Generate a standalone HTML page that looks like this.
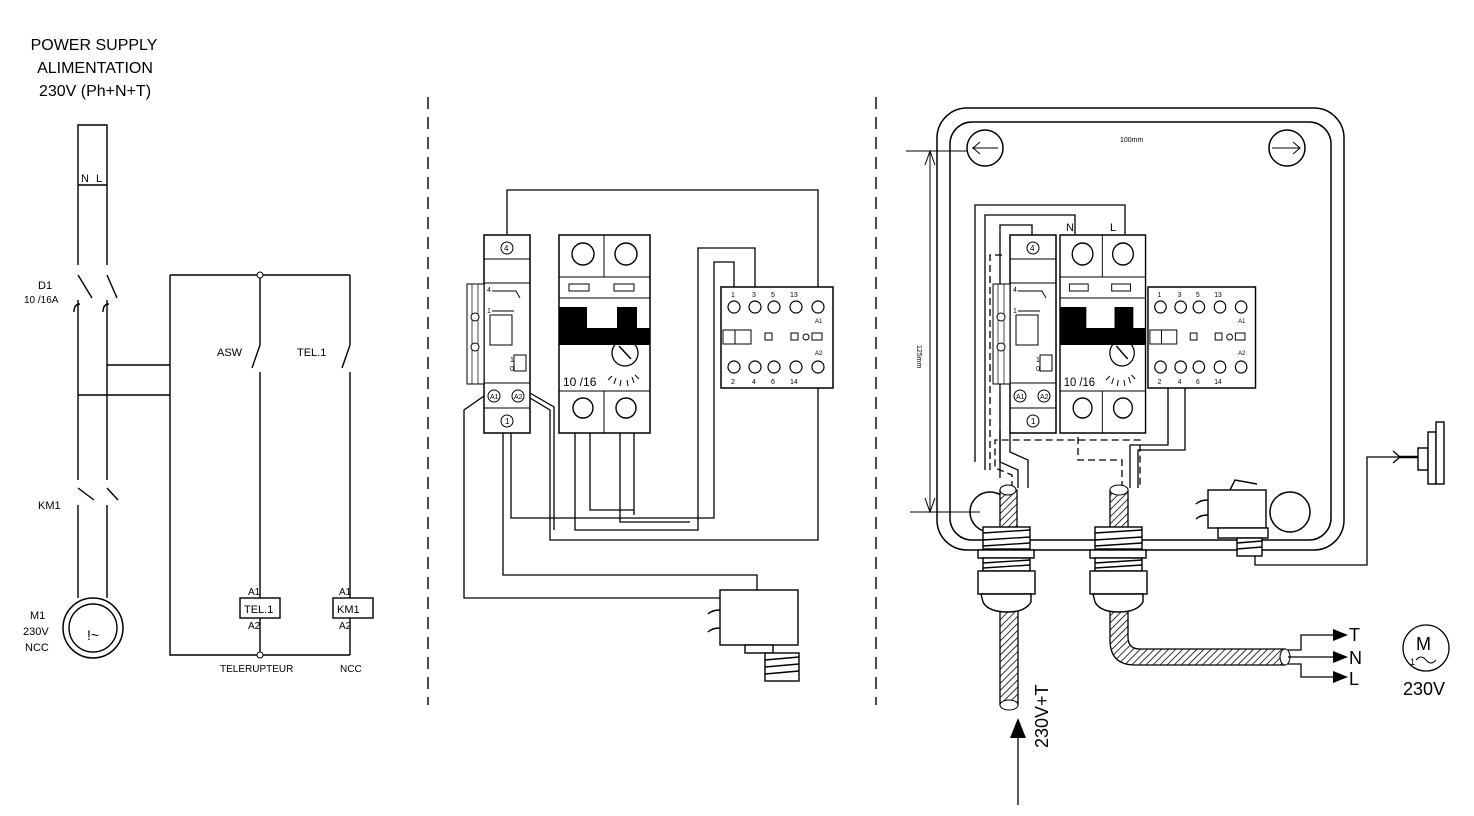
<!DOCTYPE html>
<html><head><meta charset="utf-8"><style>
html,body{margin:0;padding:0;background:#fff;}
svg{display:block;font-family:"Liberation Sans",sans-serif;}
</style></head><body>
<svg width="1474" height="816" viewBox="0 0 1474 816" xmlns="http://www.w3.org/2000/svg">
<defs>
<pattern id="h" width="5" height="5" patternUnits="userSpaceOnUse" patternTransform="rotate(45)">
<rect width="5" height="5" fill="#fff"/><line x1="0" y1="0" x2="0" y2="5" stroke="#000" stroke-width="1.6"/></pattern>
<g id="relay">
<rect x="484" y="235" width="46" height="198" fill="#fff" stroke="#000" stroke-width="1.5"/>
<line x1="484" y1="259" x2="530" y2="259" stroke="#000"/>
<line x1="484" y1="283" x2="530" y2="283" stroke="#000"/>
<line x1="484" y1="383" x2="530" y2="383" stroke="#000"/>
<line x1="484" y1="408" x2="530" y2="408" stroke="#000"/>
<circle cx="507" cy="248" r="6" fill="none" stroke="#000"/><text x="504" y="251" font-size="8">4</text>
<circle cx="494" cy="396" r="6" fill="none" stroke="#000"/><text x="490" y="399" font-size="7">A1</text>
<circle cx="518" cy="396" r="6" fill="none" stroke="#000"/><text x="514" y="399" font-size="7">A2</text>
<circle cx="507" cy="421" r="6" fill="none" stroke="#000"/><text x="505" y="424" font-size="8">1</text>
<text x="487" y="292" font-size="7">4</text><text x="487" y="313" font-size="7">1</text>
<polyline points="492,291 516,291 520,298" fill="none" stroke="#000"/>
<line x1="492" y1="311" x2="514" y2="311" stroke="#000"/>
<rect x="490" y="315" width="22" height="30" fill="none" stroke="#000"/>
<rect x="514" y="355" width="12" height="16" fill="none" stroke="#000"/>
<text x="510" y="362" font-size="7">1</text><text x="510" y="371" font-size="7">0</text>
<rect x="467" y="284" width="17" height="100" fill="#fff" stroke="#000"/>
<line x1="472" y1="284" x2="472" y2="384" stroke="#000" stroke-width=".7"/>
<line x1="478" y1="284" x2="478" y2="384" stroke="#000" stroke-width=".7"/>
<circle cx="475" cy="317" r="4" fill="#fff" stroke="#000"/><circle cx="475" cy="347" r="4" fill="#fff" stroke="#000"/>
</g>
<g id="brk">
<rect x="559" y="235" width="91" height="198" fill="#fff" stroke="#000" stroke-width="1.5"/>
<line x1="604" y1="235" x2="604" y2="277" stroke="#000"/><line x1="604" y1="391" x2="604" y2="433" stroke="#000"/>
<line x1="559" y1="277" x2="650" y2="277" stroke="#000"/><line x1="559" y1="298" x2="650" y2="298" stroke="#000"/>
<circle cx="583" cy="254" r="11" fill="none" stroke="#000" stroke-width="1.4"/><circle cx="626" cy="254" r="11" fill="none" stroke="#000" stroke-width="1.4"/>
<rect x="569" y="284" width="20" height="7" fill="none" stroke="#000"/><rect x="614" y="284" width="20" height="7" fill="none" stroke="#000"/>
<rect x="559" y="307" width="28" height="22" fill="#000"/><rect x="617" y="307" width="20" height="22" fill="#000"/>
<rect x="559" y="328" width="91" height="17" fill="#000"/>
<line x1="559" y1="391" x2="650" y2="391" stroke="#000"/>
<circle cx="625" cy="353" r="13" fill="none" stroke="#000" stroke-width="1.3"/><line x1="619" y1="346" x2="631" y2="359" stroke="#000" stroke-width="1.5"/>
<text x="615" y="342" font-size="10">AC3</text>
<text x="563" y="386" font-size="12">10 /16</text>
<path d="M608 380 L612 376 M614 384 L616 378 M620 386 L621 380 M628 386 L627 380 M634 383 L632 377 M639 379 L635 375" stroke="#000"/>
<circle cx="583" cy="408" r="10" fill="none" stroke="#000" stroke-width="1.4"/><circle cx="626" cy="408" r="10" fill="none" stroke="#000" stroke-width="1.4"/>
</g>
<g id="cont">
<rect x="721" y="287" width="112" height="101" fill="#fff" stroke="#000" stroke-width="1.5"/>
<g fill="#fff" stroke="#000" stroke-width="1.2">
<circle cx="734" cy="307" r="6"/><circle cx="755" cy="307" r="6"/><circle cx="774" cy="307" r="6"/><circle cx="796" cy="307" r="6"/><circle cx="818" cy="307" r="6"/>
<circle cx="734" cy="367" r="6"/><circle cx="755" cy="367" r="6"/><circle cx="774" cy="367" r="6"/><circle cx="796" cy="367" r="6"/><circle cx="818" cy="367" r="6"/>
</g>
<text x="731" y="297" font-size="7">1</text><text x="752" y="297" font-size="7">3</text><text x="771" y="297" font-size="7">5</text><text x="790" y="297" font-size="7">13</text>
<text x="731" y="384" font-size="7">2</text><text x="752" y="384" font-size="7">4</text><text x="771" y="384" font-size="7">6</text><text x="790" y="384" font-size="7">14</text>
<text x="815" y="323" font-size="6">A1</text><text x="815" y="355" font-size="6">A2</text>
<rect x="723" y="330" width="28" height="14" fill="none" stroke="#000"/><line x1="735" y1="330" x2="735" y2="344" stroke="#000"/>
<rect x="765" y="333" width="7" height="7" fill="none" stroke="#000"/><rect x="791" y="333" width="7" height="7" fill="none" stroke="#000"/>
<circle cx="806" cy="337" r="3" fill="none" stroke="#000"/><rect x="812" y="333" width="10" height="7" fill="none" stroke="#000"/>
</g>
</defs>

<!-- LEFT PANEL -->
<g font-size="16" text-anchor="middle">
<text x="94" y="50">POWER SUPPLY</text><text x="95" y="73">ALIMENTATION</text><text x="95" y="96">230V (Ph+N+T)</text>
</g>
<g stroke="#000" stroke-width="1.4" fill="none">
<polyline points="78,265 78,125 107,125 107,265"/>
<line x1="78" y1="185" x2="107" y2="185"/>
<path d="M78 275 L92 298 M78 300 L78 480 M107 275 L117 298 M107 300 L107 480"/>
<path d="M74 312 q0 -8 6 -8 M103 312 q0 -8 6 -8"/>
<path d="M78 488 L94 500 M78 505 L78 598 M107 488 L118 500 M107 505 L107 598"/>
<circle cx="93" cy="628" r="30" stroke-width="1.5"/><circle cx="93" cy="628" r="24"/>
<path d="M107 365 L170 365 M78 395 L170 395 M170 275 L350 275 M170 275 L170 655 L350 655"/>
<path d="M260 275 L260 345 M260 372 L260 598 M260 345 L252 368"/>
<path d="M350 275 L350 345 M350 372 L350 598 M350 345 L342 368"/>
<path d="M260 618 L260 655 M350 618 L350 655"/>
<rect x="240" y="598" width="40" height="20"/><rect x="333" y="598" width="40" height="20"/>
</g>
<g font-size="11">
<text x="81" y="182">N</text><text x="96" y="182">L</text>
<text x="38" y="289">D1</text><text x="24" y="303" font-size="10">10 /16A</text>
<text x="38" y="509">KM1</text>
<text x="30" y="619">M1</text><text x="23" y="635">230V</text><text x="25" y="651">NCC</text>
<text x="217" y="356">ASW</text><text x="297" y="356">TEL.1</text>
<text x="248" y="595" font-size="10">A1</text><text x="248" y="629" font-size="10">A2</text><text x="244" y="613">TEL.1</text>
<text x="339" y="595" font-size="10">A1</text><text x="339" y="629" font-size="10">A2</text><text x="337" y="613">KM1</text>
<text x="220" y="672" font-size="10">TELERUPTEUR</text><text x="340" y="672" font-size="10">NCC</text>
<text x="87" y="640" font-size="14">!~</text>
</g>
<circle cx="260" cy="275" r="3" fill="#fff" stroke="#000"/><circle cx="260" cy="655" r="3" fill="#fff" stroke="#000"/>

<!-- dashed separators -->
<g stroke="#000" stroke-width="1.4" stroke-dasharray="12,8">
<line x1="428" y1="97" x2="428" y2="705"/><line x1="876" y1="97" x2="876" y2="705"/>
</g>

<!-- MIDDLE PANEL -->
<g stroke="#000" stroke-width="1.3" fill="none">
<polyline points="507,242 507,190 818,190 818,300"/>
<polyline points="818,372 818,540 550,540 550,410 530,398"/>
<polyline points="554,530 554,407 530,393"/>
<polyline points="484,396 464,410 464,598 720,598"/>
<polyline points="503,430 503,575 757,575 757,590"/>
<polyline points="511,430 511,518 714,518 714,262 734,262 734,300"/>
<polyline points="575,420 575,530 698,530 698,248 755,248 755,300"/>
<polyline points="590,420 590,510 634,510"/>
<polyline points="620,420 620,522 690,522"/>
<polyline points="634,420 634,515"/>
</g>
<use href="#relay"/><use href="#brk"/><use href="#cont"/>
<g stroke="#000" stroke-width="1.4" fill="#fff">
<rect x="720" y="590" width="78" height="55"/>
<path d="M720 610 q-8 0 -12 4 M720 628 q-8 0 -12 4"/>
<rect x="745" y="645" width="28" height="8"/>
<rect x="765" y="653" width="34" height="28"/>
<path d="M765 660 L799 657 M765 667 L799 664 M765 674 L799 671" fill="none"/>
</g>

<!-- RIGHT PANEL -->
<g stroke="#000" stroke-width="1.5" fill="none">
<rect x="937" y="108" width="407" height="442" rx="30"/>
<rect x="950" y="122" width="381" height="418" rx="22"/>
<circle cx="985" cy="148" r="18"/><circle cx="1287" cy="148" r="18"/>
<circle cx="990" cy="512" r="20"/><circle cx="1290" cy="512" r="20"/>
<path d="M972 148 L998 148 M980 142 L973 148 L980 154 M1272 148 L1300 148 M1293 142 L1300 148 L1293 154" stroke-width="1"/>
<path d="M906 151 L968 151 M910 512 L980 512 M930 151 L930 512" stroke-width="1"/>
<path d="M925 165 L930 151 L935 165 M925 498 L930 512 L935 498" stroke-width="1"/>
</g>
<text x="1120" y="142" font-size="7">100mm</text>
<text x="917" y="345" font-size="7" transform="rotate(90 917 345)">125mm</text>
<g stroke="#000" stroke-width="1.3" fill="none">
<polyline points="975,462 975,205 1125,205 1125,238"/>
<polyline points="985,470 985,215 1075,215 1075,238"/>
<polyline points="1000,478 1000,225 1032,225 1032,238"/>
<polyline points="1018,488 1018,470 1000,462 1000,430"/>
<polyline points="1028,488 1028,460 1010,452 1010,430"/>
<polyline points="1130,488 1130,445 1168,445 1168,380"/>
<polyline points="1138,488 1138,450 1185,450 1185,380"/>
<polyline points="1255,545 1255,565 1367,565 1367,457 1400,457"/>
<path d="M1393 451 L1400 457 L1393 463"/>
</g>
<g stroke="#000" stroke-width="1.3" fill="none" stroke-dasharray="7,4">
<polyline points="990,470 990,255 1002,255"/>
<polyline points="1012,488 1012,475 995,468 995,440 1140,440 1140,488"/>
<polyline points="1122,488 1122,460 1078,460 1078,433"/>
</g>
<g transform="translate(526,0)"><use href="#relay"/></g>
<g transform="translate(1060,0) scale(0.94,1) translate(-559,0)"><use href="#brk"/></g>
<g transform="translate(1148,0) scale(0.96,1) translate(-721,0)"><use href="#cont"/></g>
<text x="1066" y="231" font-size="11">N</text><text x="1110" y="231" font-size="11">L</text>

<!-- pressure switch -->
<g stroke="#000" stroke-width="1.4" fill="#fff">
<rect x="1208" y="490" width="58" height="38"/>
<path d="M1208 500 q-8 0 -12 4 M1208 515 q-8 0 -12 4 M1230 490 L1235 480 L1257 484" fill="none"/>
<rect x="1218" y="528" width="50" height="10"/>
<rect x="1237" y="538" width="25" height="18"/>
<path d="M1237 543 L1262 541 M1237 549 L1262 547" fill="none"/>
<rect x="1418" y="448" width="10" height="22"/><rect x="1428" y="432" width="8" height="52"/><rect x="1436" y="422" width="8" height="62"/>
<line x1="1400" y1="457" x2="1418" y2="457" stroke-width="2.5"/>
</g>

<!-- glands & cables -->
<rect x="1000" y="600" width="18" height="105" fill="url(#h)" stroke="#000" stroke-width="1.3"/>
<ellipse cx="1009" cy="705" rx="9" ry="5" fill="#fff" stroke="#000"/>
<rect x="1000" y="490" width="17" height="40" fill="url(#h)" stroke="#000" stroke-width="1.3"/>
<ellipse cx="1008" cy="490" rx="8" ry="5" fill="#fff" stroke="#000"/>
<path d="M1110 600 L1110 640 Q1110 665 1135 665 L1285 665 L1285 649 L1140 649 Q1128 649 1128 637 L1128 600 Z" fill="url(#h)" stroke="#000" stroke-width="1.3"/>
<ellipse cx="1285" cy="657" rx="5" ry="8" fill="#fff" stroke="#000"/>
<rect x="1110" y="490" width="18" height="40" fill="url(#h)" stroke="#000" stroke-width="1.3"/>
<ellipse cx="1119" cy="490" rx="9" ry="5" fill="#fff" stroke="#000"/>
<g stroke="#000" stroke-width="1.4" fill="#fff">
<rect x="983" y="527" width="47" height="22"/><path d="M983 533 L1030 530 M983 540 L1030 537 M983 546 L1030 543" fill="none"/>
<rect x="978" y="550" width="56" height="8"/>
<rect x="983" y="558" width="47" height="13"/><path d="M983 563 L1030 560 M983 568 L1030 565" fill="none"/>
<rect x="978" y="571" width="57" height="23"/>
<path d="M981 594 L1031 594 L1031 602 Q1025 612 1008 612 Q988 612 983 602 Z"/>
<rect x="1095" y="527" width="47" height="22"/><path d="M1095 533 L1142 530 M1095 540 L1142 537 M1095 546 L1142 543" fill="none"/>
<rect x="1090" y="550" width="56" height="8"/>
<rect x="1095" y="558" width="47" height="13"/><path d="M1095 563 L1142 560 M1095 568 L1142 565" fill="none"/>
<rect x="1090" y="571" width="57" height="23"/>
<path d="M1093 594 L1143 594 L1143 602 Q1137 612 1119 612 Q1100 612 1095 602 Z"/>
</g>
<g stroke="#000" stroke-width="1.3" fill="none">
<line x1="1018" y1="805" x2="1018" y2="735"/>
<polyline points="1288,650 1301,650 1301,635 1338,635"/>
<line x1="1288" y1="657" x2="1338" y2="657"/>
<polyline points="1288,664 1301,664 1301,677 1338,677"/>
<circle cx="1426" cy="648" r="23"/>
</g>
<g fill="#000">
<path d="M1010 738 L1018 718 L1026 738 Z"/>
<path d="M1333 629 L1348 635 L1333 641 Z"/><path d="M1333 651 L1348 657 L1333 663 Z"/><path d="M1333 671 L1348 677 L1333 683 Z"/>
</g>
<g font-size="18">
<text x="1349" y="641">T</text><text x="1349" y="664">N</text><text x="1349" y="685">L</text>
<text x="1416" y="650">M</text><text x="1403" y="695">230V</text>
<text x="1048" y="748" transform="rotate(-90 1048 748)">230V+T</text>
</g>
<text x="1410" y="665" font-size="9">1</text>
<path d="M1416 660 q5 -6 10 0 t10 0" fill="none" stroke="#000"/>
</svg>
</body></html>
